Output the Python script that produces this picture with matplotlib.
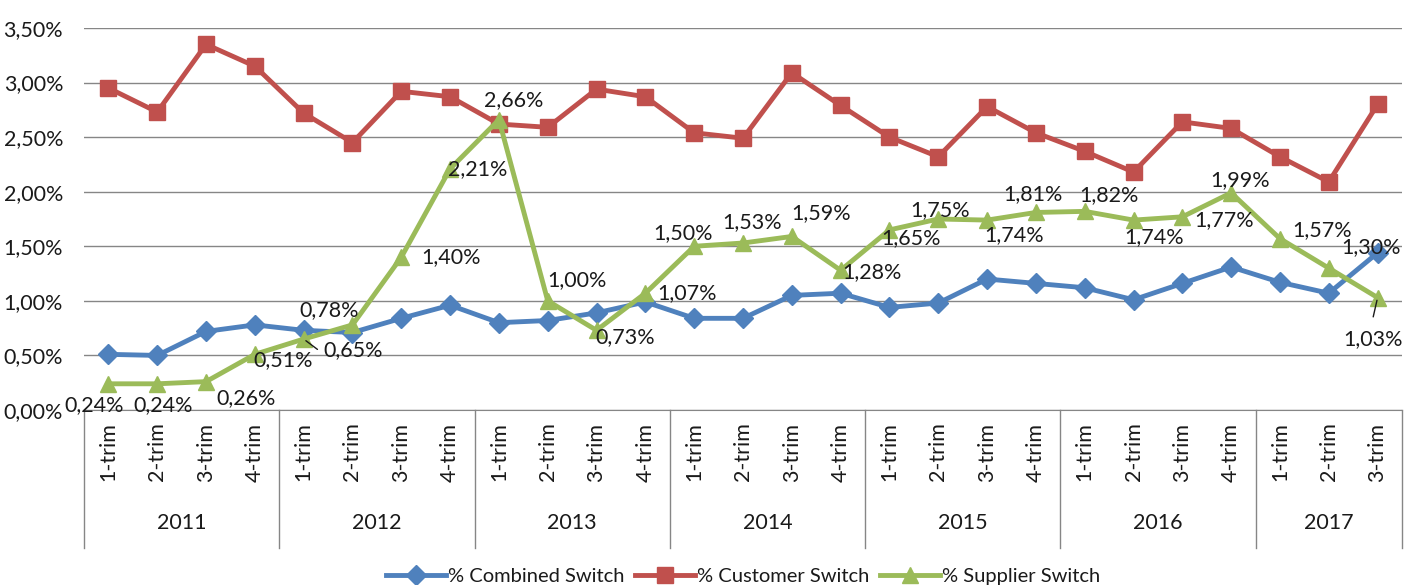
import matplotlib
matplotlib.use("Agg")
import matplotlib.pyplot as plt
import matplotlib.transforms as mtransforms
from matplotlib.ticker import FuncFormatter, MultipleLocator

plt.rcParams["font.family"] = ["Lato", "DejaVu Sans"]

# ------------------------------------------------------------------
# Datos
# ------------------------------------------------------------------
anios = ["2011", "2012", "2013", "2014", "2015", "2016", "2017"]
trimestres_por_anio = [4, 4, 4, 4, 4, 4, 3]
etiquetas_trim = ["1-trim", "2-trim", "3-trim", "4-trim"]

combined = [0.51, 0.50, 0.72, 0.78, 0.73, 0.71, 0.84, 0.96, 0.80, 0.82,
            0.89, 0.99, 0.84, 0.84, 1.05, 1.07, 0.94, 0.98, 1.20, 1.16,
            1.12, 1.01, 1.16, 1.31, 1.17, 1.07, 1.44]
customer = [2.95, 2.73, 3.35, 3.15, 2.72, 2.45, 2.92, 2.87, 2.62, 2.59,
            2.94, 2.87, 2.54, 2.49, 3.09, 2.79, 2.50, 2.32, 2.78, 2.54,
            2.37, 2.18, 2.64, 2.58, 2.32, 2.09, 2.80]
supplier = [0.24, 0.24, 0.26, 0.51, 0.65, 0.78, 1.40, 2.21, 2.66, 1.00,
            0.73, 1.07, 1.50, 1.53, 1.59, 1.28, 1.65, 1.75, 1.74, 1.81,
            1.82, 1.74, 1.77, 1.99, 1.57, 1.30, 1.03]

# desplazamiento (pixeles) de cada etiqueta de supplier respecto a su punto
offsets_etiquetas = [(-14, -21), (6, -21), (40, -16), (28, -6), (49, -11),
                     (-23, 15), (50, 0), (28, 0), (15, 20), (29, 21),
                     (29, -7), (42, 0), (-11, 13), (9, 21), (29, 23),
                     (31, -2), (22, -8), (2, 9), (27, -15), (-3, 18),
                     (24, 16), (21, -17), (42, -3), (9, 13), (42, 9),
                     (42, 21), (-5, -42)]

AZUL = "#4F81BD"
ROJO = "#C0504D"
VERDE = "#9BBB59"
GRIS = "#868686"
TEXTO = "#1a1a1a"
TAM = 15.5

fig = plt.figure(figsize=(14.17, 5.85), dpi=100)
ax = fig.add_axes([84 / 1417, 1 - 410 / 585, (1402 - 84) / 1417, (410 - 28) / 585])

x = list(range(len(supplier)))

ax.plot(x, combined, color=AZUL, lw=3.5, marker="D", ms=10,
        label="% Combined Switch")
ax.plot(x, customer, color=ROJO, lw=3.5, marker="s", ms=11,
        label="% Customer Switch")
ax.plot(x, supplier, color=VERDE, lw=3.5, marker="^", ms=12,
        label="% Supplier Switch")

for i, v in enumerate(supplier):
    dx, dy = offsets_etiquetas[i]
    txt = f"{v:.2f}%".replace(".", ",")
    ax.annotate(txt, (i, v), xytext=(dx, dy), textcoords="offset pixels",
                ha="center", va="center", fontsize=TAM, color=TEXTO)

# lineas guia de las etiquetas desplazadas
ax.annotate("", (4, supplier[4]), xytext=(16, -12), textcoords="offset pixels",
            arrowprops=dict(arrowstyle="-", color=TEXTO, lw=1))
ax.annotate("", (26, supplier[26]), xytext=(-5, -22), textcoords="offset pixels",
            arrowprops=dict(arrowstyle="-", color=TEXTO, lw=1))

ax.set_ylim(0, 3.5)
ax.set_xlim(-0.5, len(supplier) - 0.5)
ax.yaxis.set_major_locator(MultipleLocator(0.5))
ax.yaxis.set_major_formatter(FuncFormatter(lambda v, p: f"{v:.2f}%".replace(".", ",")))
ax.grid(axis="y", color=GRIS, lw=1)
ax.set_axisbelow(True)
for s in ["top", "right", "left"]:
    ax.spines[s].set_visible(False)
ax.spines["bottom"].set_color(GRIS)
ax.tick_params(axis="y", length=0, labelsize=TAM, labelcolor=TEXTO, pad=15)

# eje de categorias en dos niveles
etiquetas_x = []
for n in trimestres_por_anio:
    etiquetas_x += etiquetas_trim[:n]
ax.set_xticks(x)
ax.set_xticklabels(etiquetas_x, rotation=90, fontsize=TAM, color=TEXTO)
ax.tick_params(axis="x", length=0, pad=9)

trans = mtransforms.blended_transform_factory(ax.transData, ax.transAxes)
limite = -0.5
ax.plot([limite, limite], [0, -0.36], color=GRIS, lw=1, transform=trans, clip_on=False)
for anio, n in zip(anios, trimestres_por_anio):
    centro = limite + n / 2
    limite += n
    ax.text(centro, -0.297, anio, transform=trans, ha="center", va="center",
            fontsize=TAM, color=TEXTO)
    ax.plot([limite, limite], [0, -0.36], color=GRIS, lw=1, transform=trans,
            clip_on=False)

ax.legend(loc="center", bbox_to_anchor=(0.5, -0.435), ncol=3,
          frameon=False, fontsize=14.5, handlelength=3, columnspacing=0.5,
          handletextpad=0.1, labelcolor=TEXTO)

fig.savefig("out.png", dpi=100)
